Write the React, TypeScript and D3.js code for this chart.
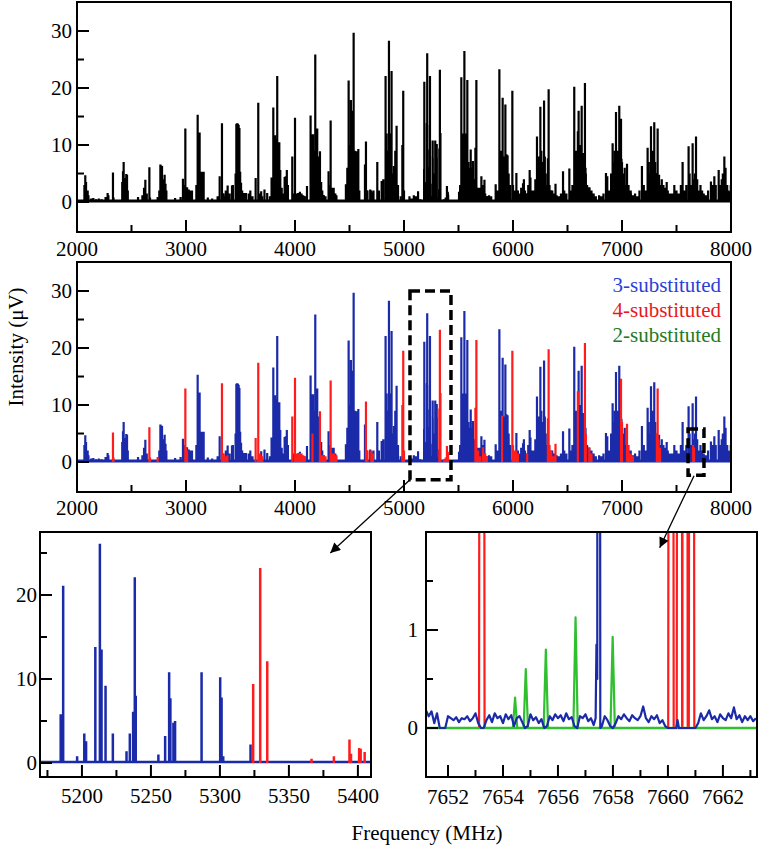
import React from "react";
import * as d3 from "d3";

// broadband spectrum, 3-substituted isomer: [MHz, µV]
const blueLines: [number, number][] = [
  [2068, 3.0], [2076, 4.7], [2083, 3.5], [2098, 2.0], [2105, 1.2],
  [2130, 0.6], [2150, 0.7], [2175, 0.5], [2200, 0.6], [2225, 0.5], [2262, 0.9], [2281, 1.6], [2288, 1.2],
  [2415, 3.5], [2422, 5.4], [2428, 7.0], [2436, 4.2], [2445, 3.7], [2452, 4.9], [2459, 4.8], [2466, 2.0],
  [2560, 0.9], [2600, 1.2], [2615, 2.5], [2627, 3.9], [2640, 1.5],
  [2755, 2.0], [2765, 6.6], [2772, 6.4], [2780, 6.3], [2792, 4.0], [2804, 4.8], [2812, 3.2], [2820, 2.0],
  [2900, 0.7], [2950, 0.9], [2972, 4.1], [2980, 3.0], [3010, 2.6], [3025, 2.2], [3040, 2.0], [3055, 2.0],
  [3095, 3.0], [3107, 15.3], [3115, 6.0], [3125, 12.2], [3132, 5.3], [3140, 5.3], [3147, 5.3], [3155, 5.3], [3162, 5.3],
  [3200, 0.8], [3240, 0.6], [3290, 1.0], [3309, 4.5], [3340, 1.5], [3365, 2.0], [3382, 2.9], [3400, 1.5], [3422, 2.9], [3430, 3.0],
  [3455, 5.0], [3462, 13.7], [3467, 13.8], [3472, 13.8], [3477, 13.7], [3483, 13.5], [3490, 13.0], [3497, 5.3], [3505, 3.4],
  [3515, 2.0], [3535, 1.6], [3550, 1.6], [3575, 1.5], [3590, 2.0], [3610, 1.0],
  [3690, 1.9], [3720, 2.2], [3745, 1.6], [3770, 1.0], [3785, 4.3],
  [3801, 16.6], [3808, 11.7], [3816, 11.7], [3825, 11.0], [3837, 22.1], [3845, 10.5], [3856, 10.5], [3865, 5.6],
  [3878, 2.5], [3890, 1.5], [3905, 4.4], [3915, 4.5], [3925, 5.6], [3935, 3.0],
  [3985, 1.5], [4030, 1.5], [4045, 1.8], [4060, 1.2], [4085, 1.0], [4110, 2.8],
  [4143, 15.2], [4150, 10.0], [4158, 11.9], [4165, 11.9], [4172, 9.0], [4186, 25.9], [4195, 12.9], [4204, 12.9], [4212, 8.0],
  [4240, 3.5], [4250, 2.0], [4265, 1.2], [4308, 5.4], [4315, 3.0], [4340, 2.5], [4355, 2.5], [4370, 1.5],
  [4467, 3.1], [4480, 6.0], [4492, 21.3], [4500, 10.0], [4513, 17.9], [4520, 16.0], [4538, 29.7], [4548, 9.0],
  [4556, 8.6], [4568, 8.9], [4581, 9.3], [4590, 2.0],
  [4642, 6.6], [4660, 2.0], [4690, 2.2], [4705, 1.7], [4720, 2.0], [4755, 7.0], [4770, 2.0], [4795, 3.7], [4810, 4.0],
  [4831, 22.1], [4840, 12.0], [4850, 9.0], [4862, 28.3], [4870, 10.0], [4878, 12.0], [4886, 23.0], [4895, 5.0],
  [4908, 6.3], [4920, 9.0], [4932, 13.4], [4945, 3.0], [4970, 1.0],
  [5050, 1.0], [5070, 0.6], [5090, 1.2], [5110, 1.0], [5129, 1.9], [5150, 0.5],
  [5184.6, 5.8], [5186.4, 21.1], [5196.5, 0.8], [5201.7, 3.5], [5203, 2.6], [5209.7, 13.8], [5213.0, 26.1],
  [5214.2, 13.5], [5217.1, 9.2], [5222.4, 3.5], [5232.3, 1.4], [5234.7, 3.5], [5237.1, 6.1], [5238.3, 22.1],
  [5239, 8.0], [5255.4, 1.0], [5260.3, 3.2], [5263.2, 10.8], [5264.1, 7.7], [5266.3, 4.8], [5267.5, 5.0],
  [5286.7, 10.8], [5300.2, 10.2], [5301.2, 7.8], [5302.4, 0.8], [5322.2, 2.2],
  [5505, 1.8], [5515, 3.0],
  [5526, 21.9], [5535, 12.0], [5545, 10.0], [5554, 26.5], [5562, 12.0], [5570, 9.0], [5581, 21.4], [5590, 7.0],
  [5600, 6.0], [5612, 9.2], [5622, 6.0], [5633, 7.2], [5645, 4.0], [5660, 3.0], [5675, 2.5], [5690, 2.5],
  [5710, 4.5], [5720, 3.0], [5738, 3.9], [5760, 1.0], [5780, 1.2], [5800, 1.0], [5841, 3.1], [5855, 2.0],
  [5875, 23.3], [5885, 8.0], [5895, 9.0], [5905, 18.3], [5912, 8.0], [5920, 8.0], [5930, 17.1], [5940, 8.4],
  [5950, 8.2], [5960, 5.0], [5975, 3.0],
  [6031, 5.1], [6045, 2.0], [6060, 1.5], [6075, 2.5], [6092, 3.3], [6100, 4.0], [6110, 2.0], [6125, 1.5],
  [6140, 3.0], [6153, 5.6], [6160, 4.3], [6175, 2.0], [6190, 2.0],
  [6205, 4.0], [6220, 11.5], [6228, 6.0], [6240, 8.0], [6251, 16.7], [6260, 9.0], [6270, 7.0], [6285, 17.8],
  [6292, 8.0], [6300, 5.0], [6315, 3.0], [6340, 2.0], [6360, 2.0], [6380, 1.5], [6400, 1.2], [6420, 1.0],
  [6440, 1.5], [6459, 5.4], [6470, 2.0], [6490, 1.5],
  [6517, 5.9], [6530, 2.0], [6545, 3.0], [6562, 20.2], [6570, 9.0], [6580, 8.0], [6590, 9.0], [6602, 16.0],
  [6610, 8.0], [6620, 10.0], [6630, 16.9], [6640, 8.0], [6648, 8.6], [6665, 6.0], [6680, 3.0], [6700, 2.5],
  [6720, 2.0], [6740, 1.5], [6760, 1.0], [6790, 1.2], [6810, 1.0], [6830, 1.5],
  [6853, 5.1], [6865, 4.5], [6880, 2.0],
  [6900, 5.0], [6914, 10.3], [6925, 7.0], [6935, 9.0], [6945, 15.8], [6955, 9.0], [6965, 8.0], [6975, 16.9],
  [6985, 7.0], [6995, 7.6], [7005, 5.0], [7015, 5.0], [7025, 6.0], [7040, 3.0], [7060, 2.0], [7080, 2.0],
  [7100, 1.2], [7120, 1.5], [7140, 1.0], [7160, 2.0], [7183, 6.3], [7200, 3.0], [7215, 2.0],
  [7235, 9.5], [7245, 7.0], [7255, 5.0], [7266, 13.3], [7275, 8.0], [7285, 9.0], [7296, 14.0], [7305, 7.0],
  [7315, 5.0], [7340, 4.8], [7350, 3.0], [7365, 4.0], [7380, 3.0], [7395, 2.5], [7410, 3.5], [7420, 2.0],
  [7440, 1.5], [7460, 1.5], [7480, 3.0], [7500, 2.0], [7520, 1.5], [7540, 3.0], [7556, 7.0], [7570, 2.0], [7590, 3.0],
  [7611, 9.8], [7620, 5.0], [7630, 3.0], [7648, 10.3], [7660, 4.0], [7670, 5.0], [7679, 11.5], [7690, 4.0],
  [7700, 2.0], [7720, 3.0], [7735, 2.0], [7750, 1.5], [7770, 1.2], [7790, 2.0],
  [7816, 3.6], [7830, 3.0], [7847, 4.5], [7860, 3.0], [7887, 5.6], [7900, 3.0], [7915, 4.0], [7925, 5.0],
  [7939, 8.0], [7950, 6.0], [7965, 3.0], [7975, 2.0], [7990, 1.9], [7998, 3.0],
];

// 4-substituted isomer
const redLines: [number, number][] = [
  [2330, 5.2], [2335, 0.8], [2664, 6.1], [2670, 0.8], [2740, 0.9], [2994, 12.9], [3000, 2.5], [3010, 2.0],
  [3330, 13.8], [3345, 1.5], [3360, 1.0], [3380, 1.2], [3639, 4.2], [3663, 17.4], [3680, 1.5], [3700, 1.0],
  [3975, 8.0], [4000, 14.8], [4010, 1.5], [4030, 1.6], [4045, 1.6], [4060, 1.5], [4075, 1.2], [4090, 1.0],
  [4160, 5.0], [4229, 8.9], [4245, 1.2], [4260, 1.2], [4280, 1.0], [4327, 14.3], [4340, 1.5], [4360, 1.5], [4380, 1.2],
  [4651, 10.6], [4665, 2.0], [4700, 2.0], [4715, 1.5], [4985, 10.0], [4993, 19.5], [5000, 2.0],
  [5324.1, 9.4], [5329.2, 23.2], [5334.3, 12.1], [5366.4, 0.5], [5382.6, 0.8], [5393.9, 2.8], [5395, 1.1],
  [5400.9, 1.8], [5402, 1.7], [5404.9, 1.3],
  [5655, 9.5], [5664, 21.4], [5680, 2.0], [5700, 1.0], [5725, 2.6], [5745, 1.5], [5760, 1.0],
  [5900, 8.1], [5994, 19.5], [6000, 3.0], [6010, 2.0], [6030, 2.0], [6045, 1.5], [6130, 1.5],
  [6320, 7.7], [6327, 19.8], [6335, 3.0], [6350, 2.0], [6370, 1.0], [6390, 3.2],
  [6595, 12.4], [6660, 20.9], [6668, 5.0], [6700, 2.6], [6720, 1.5], [6991, 14.6], [7000, 7.0], [7046, 6.7],
  [7060, 3.0], [7080, 1.5], [7100, 1.0], [7320, 5.1], [7327, 12.9], [7335, 4.0], [7350, 2.5], [7653, 3.0], [7661, 2.5],
];

// high resolution window 7651-7663 MHz
const brBlueTrace: [number, number][] = [
  [7651.2, 0.18], [7651.3, 0.12], [7651.4, 0.17], [7651.5, 0.05], [7651.6, 0.15], [7651.7, 0.0], [7651.8, 0.0],
  [7651.9, 0.0], [7652.0, 0.12], [7652.1, 0.1], [7652.2, 0.08], [7652.3, 0.11], [7652.4, 0.06], [7652.5, 0.1],
  [7652.6, 0.09], [7652.7, 0.12], [7652.8, 0.07], [7652.9, 0.1], [7653.0, 0.15], [7653.1, 0.05], [7653.2, 0.0],
  [7653.3, 0.0], [7653.4, 0.08], [7653.5, 0.13], [7653.6, 0.06], [7653.7, 0.15], [7653.8, 0.1], [7653.9, 0.12],
  [7654.0, 0.05], [7654.1, 0.14], [7654.2, 0.09], [7654.3, 0.13], [7654.4, 0.02], [7654.5, 0.1], [7654.6, 0.12],
  [7654.7, 0.06], [7654.8, 0.0], [7654.9, 0.02], [7655.0, 0.14], [7655.1, 0.08], [7655.2, 0.11], [7655.3, 0.05],
  [7655.4, 0.09], [7655.5, 0.0], [7655.6, 0.02], [7655.7, 0.12], [7655.8, 0.08], [7655.9, 0.14], [7656.0, 0.1],
  [7656.1, 0.13], [7656.2, 0.07], [7656.3, 0.15], [7656.4, 0.09], [7656.5, 0.11], [7656.6, 0.02], [7656.7, 0.0],
  [7656.8, 0.12], [7656.9, 0.1], [7657.0, 0.14], [7657.1, 0.07], [7657.2, 0.1], [7657.3, 0.03],
  [7657.37, 0.1], [7657.40, 0.85], [7657.43, 0.5], [7657.47, 30], [7657.54, 0.0],
  [7657.6, 0.02], [7657.7, 0.12], [7657.8, 0.08], [7657.9, 0.02], [7658.0, 0.0], [7658.1, 0.05], [7658.2, 0.12],
  [7658.3, 0.09], [7658.4, 0.14], [7658.5, 0.1], [7658.6, 0.07], [7658.7, 0.13], [7658.8, 0.1], [7658.9, 0.08],
  [7659.0, 0.12], [7659.1, 0.22], [7659.2, 0.1], [7659.3, 0.06], [7659.4, 0.12], [7659.5, 0.09], [7659.6, 0.13],
  [7659.7, 0.05], [7659.8, 0.08], [7659.9, 0.02], [7660.0, 0.0], [7660.3, 0.0], [7660.35, 0.08], [7660.4, 0.0],
  [7661.0, 0.0], [7661.1, 0.05], [7661.2, 0.15], [7661.3, 0.08], [7661.4, 0.12], [7661.5, 0.18], [7661.6, 0.09],
  [7661.7, 0.12], [7661.8, 0.06], [7661.9, 0.14], [7662.0, 0.1], [7662.1, 0.08], [7662.2, 0.15], [7662.3, 0.1],
  [7662.4, 0.21], [7662.5, 0.09], [7662.6, 0.13], [7662.7, 0.06], [7662.8, 0.12], [7662.9, 0.08], [7663.0, 0.12],
  [7663.1, 0.07], [7663.2, 0.1],
];
const brRedPeaks: [number, number][] = [[7653.23, 30], [7660.11, 30], [7660.42, 30], [7660.62, 30], [7660.86, 30]];
const brGreenPeaks: [number, number][] = [[7654.44, 0.31], [7654.83, 0.6], [7655.56, 0.8], [7656.64, 1.13], [7657.99, 0.93]];

const wideMajor = [2000, 3000, 4000, 5000, 6000, 7000, 8000];
const wideMinor = [2500, 3500, 4500, 5500, 6500, 7500];
const wideYMajor = [0, 10, 20, 30];
const wideYMinor = [5, 15, 25];
const blMajor = [5200, 5250, 5300, 5350, 5400];
const blMinor = [5175, 5225, 5275, 5325, 5375];
const blYMajor = [0, 10, 20];
const blYMinor = [5, 15, 25];
const brMajor = [7652, 7654, 7656, 7658, 7660, 7662];
const brMinor = [7653, 7655, 7657, 7659, 7661, 7663];
const brYMajor = [0, 1];
const brYMinor = [0.5, 1.5];

const legend = [
  { label: "3-substituted", color: "#2b3fd6" },
  { label: "4-substituted", color: "#e8181e" },
  { label: "2-substituted", color: "#237a23" },
];

const BLUE = "#1a2aa8";
const RED = "#ff1c1c";
const GREEN = "#2fbf2f";
const FONT = "'Liberation Serif', 'Times New Roman', serif";

type S = d3.ScaleLinear<number, number>;

function Axes({ x, y, xMajor, xMinor, yMajor, yMinor, xLabelY, yLabelX }: {
  x: S; y: S; xMajor: number[]; xMinor: number[]; yMajor: number[]; yMinor: number[]; xLabelY: number; yLabelX: number;
}) {
  const [x0, x1] = x.range();
  const [yb, yt] = y.range();
  return (
    <g>
      <rect x={x0} y={yt} width={x1 - x0} height={yb - yt} fill="none" stroke="#000" strokeWidth={2} />
      {xMajor.map((v) => <line key={"a" + v} x1={x(v)} x2={x(v)} y1={yb} y2={yb - 12} stroke="#000" strokeWidth={2} />)}
      {xMinor.map((v) => <line key={"b" + v} x1={x(v)} x2={x(v)} y1={yb} y2={yb - 7} stroke="#000" strokeWidth={2} />)}
      {yMajor.map((v) => <line key={"c" + v} x1={x0} x2={x0 + 12} y1={y(v)} y2={y(v)} stroke="#000" strokeWidth={2} />)}
      {yMinor.map((v) => <line key={"d" + v} x1={x0} x2={x0 + 7} y1={y(v)} y2={y(v)} stroke="#000" strokeWidth={2} />)}
      {xMajor.map((v) => (
        <text key={"e" + v} x={x(v)} y={xLabelY} textAnchor="middle" dominantBaseline="central">{v}</text>
      ))}
      {yMajor.map((v) => (
        <text key={"f" + v} x={yLabelX} y={y(v)} textAnchor="end" dominantBaseline="central">{v}</text>
      ))}
    </g>
  );
}

function Sticks({ lines, x, y, color, w }: { lines: [number, number][]; x: S; y: S; color: string; w: number }) {
  const [f0, f1] = x.domain();
  const d = lines
    .filter(([f]) => f >= f0 && f <= f1)
    .map(([f, v]) => `M${x(f)},${y(0)}V${y(v)}`)
    .join("");
  return <path d={d} stroke={color} strokeWidth={w} fill="none" />;
}

export default function App() {
  const topX = d3.scaleLinear().domain([2000, 8000]).range([77, 731]);
  const topY = d3.scaleLinear().domain([-5.26, 35.09]).range([232, 2]);
  const midY = d3.scaleLinear().domain([-5.26, 35.09]).range([492, 262]);
  const blX = d3.scaleLinear().domain([5169.6, 5409.5]).range([40, 371]);
  const blY = d3.scaleLinear().domain([-1.667, 27.5]).range([777, 532]);
  const brX = d3.scaleLinear().domain([7651.2, 7663.24]).range([426, 757]);
  const brY = d3.scaleLinear().domain([-0.5, 2.0]).range([777, 532]);

  const brLine = d3.line<[number, number]>().x((d) => brX(d[0])).y((d) => brY(d[1]));
  const peak = (f: number, v: number, hw: number) => brLine([[f - hw, 0], [f, v], [f + hw, 0]]) || "";

  const [bf0, bf1] = brX.domain();

  // zoom boxes and arrows (data units of the middle panel / target panels)
  const boxA = { f0: 5055, f1: 5431, v0: -3.1, v1: 30.0 };
  const boxB = { f0: 7606, f1: 7752, v0: -2.3, v1: 5.8 };

  return (
    <svg width={759} height={847} style={{ position: "absolute", left: 0, top: 0, background: "#fff" }}
      fontFamily={FONT} fontSize={21}>
      <defs>
        <clipPath id="cTop"><rect x={77} y={2} width={654} height={230} /></clipPath>
        <clipPath id="cMid"><rect x={77} y={262} width={654} height={230} /></clipPath>
        <clipPath id="cBl"><rect x={40} y={532} width={331} height={245} /></clipPath>
        <clipPath id="cBr"><rect x={426} y={532} width={331} height={245} /></clipPath>
        <marker id="arr" viewBox="0 0 10 10" refX={10} refY={5} markerWidth={13} markerHeight={10}
          markerUnits="userSpaceOnUse" orient="auto">
          <path d="M0,0L10,5L0,10z" fill="#000" />
        </marker>
      </defs>

      {/* top: full spectrum */}
      <g clipPath="url(#cTop)">
        <line x1={77} x2={731} y1={topY(0.2)} y2={topY(0.2)} stroke="#000" strokeWidth={3} />
        <Sticks lines={blueLines} x={topX} y={topY} color="#000" w={2.2} />
        <Sticks lines={redLines} x={topX} y={topY} color="#000" w={2.2} />
      </g>
      <Axes x={topX} y={topY} xMajor={wideMajor} xMinor={wideMinor} yMajor={wideYMajor} yMinor={wideYMinor}
        xLabelY={249} yLabelX={72} />

      {/* middle: assigned isomers */}
      <g clipPath="url(#cMid)">
        <line x1={77} x2={731} y1={midY(0.2)} y2={midY(0.2)} stroke={BLUE} strokeWidth={3} />
        <Sticks lines={blueLines} x={topX} y={midY} color={BLUE} w={2.2} />
        <Sticks lines={redLines} x={topX} y={midY} color={RED} w={2.2} />
      </g>
      <Axes x={topX} y={midY} xMajor={wideMajor} xMinor={wideMinor} yMajor={wideYMajor} yMinor={wideYMinor}
        xLabelY={508} yLabelX={72} />
      {legend.map((l, i) => (
        <text key={l.label} x={721} y={285 + i * 25} textAnchor="end" dominantBaseline="central" fill={l.color}>
          {l.label}
        </text>
      ))}

      {/* bottom left zoom */}
      <g clipPath="url(#cBl)">
        <line x1={40} x2={371} y1={blY(0.12)} y2={blY(0.12)} stroke={BLUE} strokeWidth={2.5} />
        <Sticks lines={blueLines} x={blX} y={blY} color={BLUE} w={2.5} />
        <Sticks lines={redLines} x={blX} y={blY} color={RED} w={2.5} />
      </g>
      <Axes x={blX} y={blY} xMajor={blMajor} xMinor={blMinor} yMajor={blYMajor} yMinor={blYMinor}
        xLabelY={796} yLabelX={37} />

      {/* bottom right zoom */}
      <g clipPath="url(#cBr)" fill="none" strokeWidth={2.2} strokeLinejoin="round">
        <path d={brLine([[bf0, 0], [bf1, 0]]) || ""} stroke={RED} />
        {brRedPeaks.map(([f, v]) => <path key={"r" + f} d={peak(f, v, 0.1)} stroke={RED} />)}
        <path d={brLine([[bf0, 0], [bf1, 0]]) || ""} stroke={GREEN} strokeWidth={2.6} />
        {brGreenPeaks.map(([f, v]) => <path key={"g" + f} d={peak(f, v, 0.08)} stroke={GREEN} />)}
        <path d={brLine(brBlueTrace) || ""} stroke={BLUE} />
      </g>
      <Axes x={brX} y={brY} xMajor={brMajor} xMinor={brMinor} yMajor={brYMajor} yMinor={brYMinor}
        xLabelY={797} yLabelX={418} />

      {/* zoom boxes */}
      <g fill="none" stroke="#000" strokeWidth={3.5} strokeDasharray="10,5">
        <rect x={topX(boxA.f0)} y={midY(boxA.v1)} width={topX(boxA.f1) - topX(boxA.f0)}
          height={midY(boxA.v0) - midY(boxA.v1)} />
        <rect x={topX(boxB.f0)} y={midY(boxB.v1)} width={topX(boxB.f1) - topX(boxB.f0)}
          height={midY(boxB.v0) - midY(boxB.v1)} />
      </g>
      <line x1={topX(boxA.f0)} y1={midY(boxA.v0)} x2={blX(5380)} y2={blY(25)} stroke="#000" strokeWidth={1.3}
        markerEnd="url(#arr)" />
      <line x1={topX(7661)} y1={midY(-2.4)} x2={brX(7659.7)} y2={brY(1.84)} stroke="#000" strokeWidth={1.3}
        markerEnd="url(#arr)" />

      <text x={16} y={347} transform="rotate(-90 16 347)" textAnchor="middle" dominantBaseline="central">
        Intensity (μV)
      </text>
      <text x={427} y={833} textAnchor="middle" dominantBaseline="central">Frequency (MHz)</text>
    </svg>
  );
}
